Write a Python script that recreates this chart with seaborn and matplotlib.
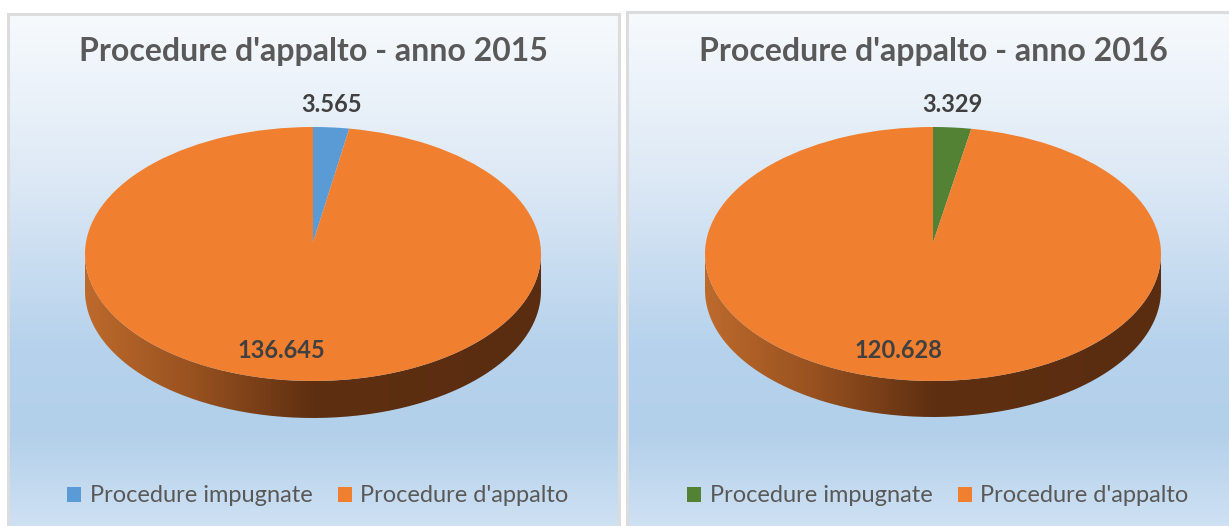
import numpy as np
import matplotlib
matplotlib.use("Agg")
import matplotlib.pyplot as plt
from matplotlib.colors import LinearSegmentedColormap
from matplotlib.patches import PathPatch, Rectangle
from matplotlib.path import Path
import seaborn as sns

# data
categories = ["Procedure impugnate", "Procedure d'appalto"]
values_2015 = [3565, 136645]
values_2016 = [3329, 120628]
years = [2015, 2016]
colors_2015 = ["#5b9bd5", "#f07f2f"]
colors_2016 = ["#548235", "#f07f2f"]

W, H = 1229, 526
TEXT_DARK = "#404040"
TEXT_GREY = "#595959"

sns.set_theme(style="white")
plt.rcParams["font.family"] = ["Lato", "DejaVu Sans"]

bg_cmap = LinearSegmentedColormap.from_list(
    "panel", [(0, "#f7fafd"), (0.3, "#dfeaf6"), (0.65, "#b6d2ec"), (0.82, "#b3d0ea"), (1, "#cfe1f3")])
side_cmap = LinearSegmentedColormap.from_list(
    "side", [(0, "#bd6a2c"), (0.25, "#96501f"), (0.5, "#5e2f11"), (1, "#5b2d10")])


def px_axes(fig, x0, y0, x1, y1):
    # axes from pixel box, y measured from the top
    return fig.add_axes([x0 / W, 1 - y1 / H, (x1 - x0) / W, (y1 - y0) / H])


def fmt(v):
    return f"{v:,}".replace(",", ".")


def draw_panel(fig, values, colors, year, box, cx, top, rx, ry, depth, small_xy, big_xy, legend_x):
    # background with gradient and grey border
    x0, y0, x1, y1 = box
    bg = px_axes(fig, x0, y0, x1, y1)
    bg.imshow(np.linspace(0, 1, 256).reshape(-1, 1), cmap=bg_cmap, aspect="auto", extent=(0, 1, 0, 1))
    bg.set_xticks([])
    bg.set_yticks([])
    for s in bg.spines.values():
        s.set_color("#dcdcdc")
        s.set_linewidth(2.2)

    ax = px_axes(fig, cx - rx, top, cx + rx, top + 2 * ry + depth)
    wedges, _ = ax.pie(values, colors=colors, startangle=90, counterclock=False, radius=1,
                       wedgeprops={"linewidth": 0}, normalize=True)
    ax.set_aspect("auto")
    d = depth / ry
    ax.axis("off")

    # the tilted pie has its apex above the middle of the ellipse
    for w in wedges:
        v = w.get_path().vertices.copy()
        v[np.hypot(v[:, 0], v[:, 1]) < 1e-6] = (0, 0.09)
        w._path = Path(v, w.get_path().codes)

    # side wall of the pie
    t = np.linspace(np.pi, 2 * np.pi, 200)
    xs = np.r_[np.cos(t), np.cos(t[::-1])]
    ys = np.r_[np.sin(t) - d, np.sin(t[::-1])]
    wall = PathPatch(Path(np.c_[xs, ys]), transform=ax.transData, fc="none", ec="none")
    ax.add_patch(wall)
    im = ax.imshow(np.linspace(0, 1, 256).reshape(1, -1), cmap=side_cmap, aspect="auto",
                   extent=(-1, 1, -1 - d, 0), zorder=0.5)
    im.set_clip_path(wall)
    ax.set_aspect("auto")
    ax.set_xlim(-1, 1)
    ax.set_ylim(-1 - d, 1)

    fig.text((cx + 0.5) / W, 1 - 51 / H, f"Procedure d'appalto - anno {year}", ha="center", va="center",
             fontsize=23, fontweight="bold", color=TEXT_GREY)
    fig.text(small_xy[0] / W, 1 - small_xy[1] / H, fmt(values[0]), ha="center", va="center",
             fontsize=17, fontweight="bold", color=TEXT_DARK)
    fig.text(big_xy[0] / W, 1 - big_xy[1] / H, fmt(values[1]), ha="center", va="center",
             fontsize=17, fontweight="bold", color=TEXT_DARK)

    handles = [Rectangle((0, 0), 1, 1, fc=c, ec="none") for c in colors]
    fig.legend(handles, categories, ncol=2, loc="center", bbox_to_anchor=(legend_x / W, 1 - 496 / H),
               frameon=False, fontsize=17, labelcolor=TEXT_GREY, handlelength=0.6, handleheight=0.6,
               handletextpad=0.34, columnspacing=1.1, borderpad=0, borderaxespad=0)


fig = plt.figure(figsize=(W / 100, H / 100), dpi=100, facecolor="white")
draw_panel(fig, values_2015, colors_2015, years[0], (8, 14, 619, 527), 313, 127, 228, 127, 37,
           (332, 105), (281, 351), 318)
draw_panel(fig, values_2016, colors_2016, years[1], (627, 12, 1230, 527), 933, 127, 228, 127, 36,
           (952, 105), (898, 350), 938)
fig.savefig("out.png", dpi=100)
